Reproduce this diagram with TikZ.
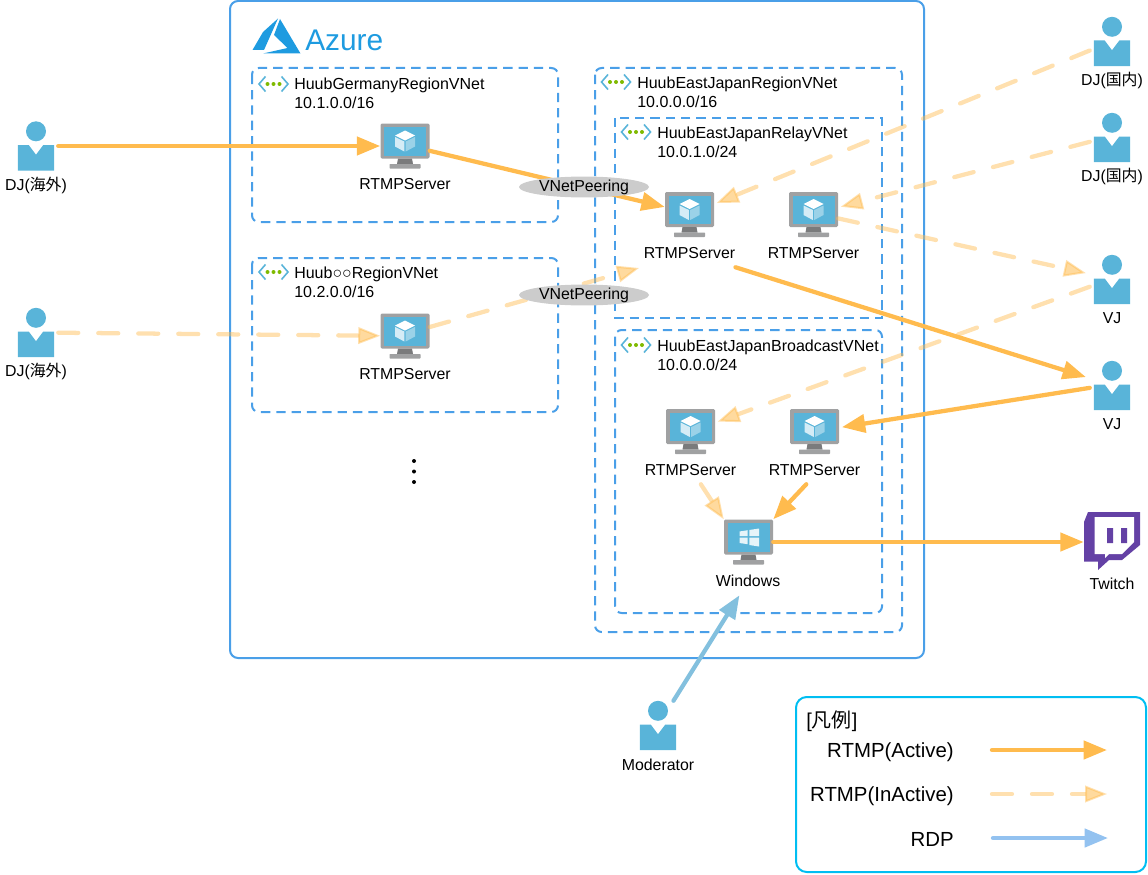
\documentclass[tikz,border=0pt]{standalone}
\usepackage{fontspec}
\setmainfont{Liberation Sans}
\newfontfamily\cjk{Noto Sans CJK JP}
\usetikzlibrary{arrows.meta,calc,positioning,shapes.geometric}
\definecolor{azureblue}{HTML}{4A9FE8}
\definecolor{logoblue}{HTML}{1E9BE0}
\definecolor{legendblue}{HTML}{00BEF2}
\definecolor{flow}{HTML}{FFBB4E}
\definecolor{rdpmod}{HTML}{83C0DE}
\definecolor{rdpkey}{HTML}{93C2F0}
\definecolor{icon}{HTML}{59B4D9}
\definecolor{bezel}{HTML}{A0A1A2}
\definecolor{stand}{HTML}{7A7B7C}
\definecolor{twitch}{HTML}{6441A5}
\definecolor{peer}{HTML}{CCCCCC}
\definecolor{dotgreen}{HTML}{7FBA00}
\tikzset{
    lbl/.style={inner sep=0pt,minimum height=21pt,font=\fontsize{11.9}{14}\selectfont},
    nettext/.style={anchor=west,align=left,inner sep=0pt,font=\fontsize{12}{14}\selectfont},
    keytext/.style={anchor=east,inner sep=0pt,font=\fontsize{15.3}{18}\selectfont},
    monbox/.style={inner sep=0pt,minimum width=36.75pt,minimum height=33.75pt},
    manbox/.style={inner sep=0pt,minimum width=33pt,minimum height=36.75pt},
    vbox/.style={draw=azureblue,line width=1.5pt,dash pattern=on 7pt off 4.5pt},
    peering/.style={ellipse,fill=peer,inner sep=0pt,minimum width=97.5pt,minimum height=15.5pt,font=\fontsize{11.9}{14}\selectfont},
    active/.style={draw=flow,line width=3.2pt,line cap=round,-{Triangle[length=17.5pt,width=13.5pt]}},
    inactive/.style={draw=flow,line width=3.2pt,line cap=round,draw opacity=.45,dash pattern=on 15pt off 15pt,
        -{Triangle[length=16.5pt,width=12.5pt,line width=1.5pt,fill=flow!55]}},
    rdp/.style={line width=3.2pt,line cap=round,-{Triangle[length=17.5pt,width=13.5pt]}},
    monitor/.pic={
        \fill[bezel,rounded corners=1pt] (-24.5,-22.5) rectangle (24.5,12.5);
        \fill[icon] (-21,-19) rectangle (21,9.5);
        \fill[stand] (-7,12.5) -- (7,12.5) -- (8,18) -- (-8,18) -- cycle;
        \fill[bezel,rounded corners=.5pt] (-15.5,18) rectangle (15.5,22.5);
    },
    cube/.pic={
        \fill[white] (0,-15.5) -- (10,-10.5) -- (0,-5.5) -- (-10,-10.5) -- cycle;
        \fill[white!75!icon] (-10,-9) -- (-.7,-4.5) -- (-.7,5.5) -- (-10,.5) -- cycle;
        \fill[white!40!icon] (10,-9) -- (.7,-4.5) -- (.7,5.5) -- (10,.5) -- cycle;
    },
    winlogo/.pic={
        \fill[white!85!icon] (-9,-10.5) -- (-.8,-11.8) -- (-.8,-5.8) -- (-9,-5.8) -- cycle;
        \fill[white!85!icon] (.8,-12) -- (10.5,-13.5) -- (10.5,-5.8) -- (.8,-5.8) -- cycle;
        \fill[white!85!icon] (-9,-4.4) -- (-.8,-4.4) -- (-.8,2.2) -- (-9,1) -- cycle;
        \fill[white!85!icon] (.8,-4.4) -- (10.5,-4.4) -- (10.5,4.5) -- (.8,3) -- cycle;
    },
    man/.pic={
        \fill[icon] (0,-14.7) circle (10);
        \fill[icon] (-18.2,-1) -- (-7.3,-1) -- (0,8.7) -- (7.3,-1) -- (18.2,-1) -- (18.2,24.7) -- (-18.2,24.7) -- cycle;
    },
    vnetmark/.pic={
        \draw[icon,line width=1.2pt] (-8,-7.5) -- (-14.5,0) -- (-8,7.5);
        \draw[icon,line width=1.2pt] (8,-7.5) -- (14.5,0) -- (8,7.5);
        \fill[dotgreen] (-6,0) circle (2) (0,0) circle (2) (6,0) circle (2);
    }
}
\newcommand{\server}[3]{
    \node[monbox] (#1) at (#2) {};
    \pic at (#1) {monitor};
    \pic at (#1) {cube};
    \node[lbl] (#1t) at ($(#1)+(0,38.5)$) {#3};
}
\newcommand{\person}[3]{
    \node[manbox] (#1) at (#2) {};
    \pic at (#1) {man};
    \node[lbl] (#1t) at ($(#1)+(0,39)$) {#3};
}
\begin{document}
\begin{tikzpicture}[x=.75pt,y=-.75pt]
            \useasboundingbox (0,0) rectangle (1148,874);

            \draw[azureblue,line width=1.5pt,rounded corners=6pt] (230,1) rectangle (924,658);
            \fill[logoblue] (278,18.5) -- (263,32) -- (252.5,50) -- (264,50) -- cycle;
            \fill[logoblue] (280,19) -- (300.5,53.5) -- (263,53.5) -- (287.5,48) -- (274,35) -- cycle;
            \node[anchor=west,inner sep=0pt,text=logoblue,font=\fontsize{22.4}{26}\selectfont] (azure) at (305,40) {Azure};

            \draw[vbox,rounded corners=5pt] (252,68) rectangle (558,222);
            \draw[vbox,rounded corners=5pt] (252,258) rectangle (558,412);
            \draw[vbox,rounded corners=5pt] (595,68) rectangle (902,632);
            \draw[vbox] (615,118) rectangle (882,318);
            \draw[vbox,rounded corners=5pt] (615,330) rectangle (882,613);

            \pic at (273.5,84) {vnetmark};
            \pic at (273.5,272) {vnetmark};
            \pic at (616,82) {vnetmark};
            \pic at (636,132) {vnetmark};
            \pic at (636,345) {vnetmark};
            \node[nettext] (netg) at (294,93.5) {HuubGermanyRegionVNet\\10.1.0.0/16};
            \node[nettext] (neth) at (294,282) {Huub○○RegionVNet\\10.2.0.0/16};
            \node[nettext] (nete) at (637,92) {HuubEastJapanRegionVNet\\10.0.0.0/16};
            \node[nettext] (netr) at (657,142) {HuubEastJapanRelayVNet\\10.0.1.0/24};
            \node[nettext] (netb) at (657,355) {HuubEastJapanBroadcastVNet\\10.0.0.0/24};

            \server{srvg}{405,146}{RTMPServer}
            \server{srvh}{405,336}{RTMPServer}
            \server{srva}{689.5,214.5}{RTMPServer}
            \server{srvb}{813.5,214.5}{RTMPServer}
            \server{srvc}{690.5,431.5}{RTMPServer}
            \server{srvd}{814.5,431.5}{RTMPServer}
            \node[monbox] (win) at (748.5,542) {};
            \pic at (win) {monitor};
            \pic at (win) {winlogo};
            \node[lbl] (wint) at (748,581) {Windows};

            \person{dja}{36,146}{DJ({\cjk 海外})}
            \person{djb}{36,332.5}{DJ({\cjk 海外})}
            \person{djc}{1112,41.5}{DJ({\cjk 国内})}
            \person{djd}{1112,137.5}{DJ({\cjk 国内})}
            \person{vja}{1112,279.5}{VJ}
            \person{vjb}{1112,385.5}{VJ}
            \person{mod}{658,725.5}{Moderator}

            \node[inner sep=0pt,minimum width=42pt,minimum height=43.5pt] (twi) at (1112,542) {};
            \fill[twitch] (1088,512) -- (1140,512) -- (1140,545) -- (1122,560) -- (1109,560) -- (1098,570) -- (1098,561.5) -- (1084,561.5) -- (1084,522) -- cycle;
            \fill[white] (1094.5,517) -- (1134,517) -- (1134,542) -- (1122,554) -- (1109,554) -- (1105,558) -- (1105,554) -- (1094.5,554) -- cycle;
            \fill[twitch] (1107,528) rectangle (1113,543) (1121,528) rectangle (1127,543);
            \node[lbl] (twit) at (1112,584) {Twitch};

            \fill (414,461) circle (2) (414,471.5) circle (2) (414,482) circle (2);

            \coordinate (peerend) at (639,268);

            \draw[inactive] (djb) -- (srvh);
            \draw[inactive] (srvh.20) -- (peerend);
            \draw[inactive,shorten >=2pt] (djc.202) -- (srva.23);
            \draw[inactive,shorten >=2pt] (djd.191) -- (srvb.16);
            \draw[inactive,shorten >=3pt] (srvb.-9) -- (vja.166);
            \draw[inactive,shorten >=2pt] (vja.198) -- (srvc.20);
            \draw[inactive] (srvct.-54) -- (win.north west);

            \draw[active] (dja) -- (srvg);
            \draw[active] (srvg.-11) -- (srva.163);
            \draw[active,shorten >=3pt] (srvat.south east) -- (vjb.162);
            \draw[active,shorten >=2pt] (vjb.186) -- (srvd.9);
            \draw[active] (srvdt.240) -- (win.north east);
            \draw[active] (win) -- (twi);
            \draw[rdp,rdpmod] (mod.58) -- (wint.239);

            \node[peering] (peera) at (584,187) {VNetPeering};
            \node[peering] (peerb) at (584,295) {VNetPeering};

            \draw[legendblue,line width=1.5pt,rounded corners=8pt] (796,697) rectangle (1146,872);
            \node[anchor=west,inner sep=0pt,font=\fontsize{15}{18}\selectfont] (keyt) at (806,721) {[{\cjk 凡例}]};
            \node[keytext] (keya) at (954,752) {RTMP(Active)};
            \node[keytext] (keyb) at (954,796) {RTMP(InActive)};
            \node[keytext] (keyc) at (954,839) {RDP};
            \coordinate (keya1) at (992,750);
            \coordinate (keya2) at (1107,750);
            \coordinate (keyb1) at (992,794);
            \coordinate (keyb2) at (1107,794);
            \coordinate (keyc1) at (993,838);
            \coordinate (keyc2) at (1108,838);
            \draw[active] (keya1) -- (keya2);
            \draw[inactive] (keyb1) -- (keyb2);
            \draw[rdp,rdpkey] (keyc1) -- (keyc2);
        \end{tikzpicture}
\end{document}
